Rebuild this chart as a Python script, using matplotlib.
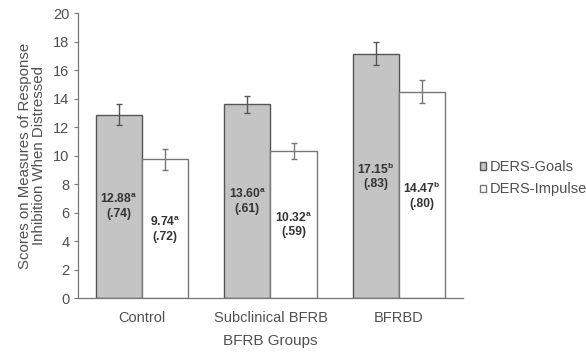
import numpy as np
import matplotlib.pyplot as plt

plt.rcParams['font.family'] = 'Liberation Sans'
plt.rcParams['mathtext.fontset'] = 'custom'
plt.rcParams['mathtext.rm'] = 'Liberation Sans'
plt.rcParams['mathtext.bf'] = 'Liberation Sans:bold'

groups = ['Control', 'Subclinical BFRB', 'BFRBD']
goals = [12.88, 13.60, 17.15]
goals_se = [0.74, 0.61, 0.83]
goals_sup = ['a', 'a', 'b']
impulse = [9.74, 10.32, 14.47]
impulse_se = [0.72, 0.59, 0.80]
impulse_sup = ['a', 'a', 'b']
yticks = [0, 2, 4, 6, 8, 10, 12, 14, 16, 18, 20]

txt = '#505050'
edge = '#555555'

fig = plt.figure(figsize=(5.86, 3.52), dpi=100)
ax = fig.add_axes([0.133, 0.153, 0.657, 0.81])

x = np.arange(len(groups))
w = 0.36
ax.bar(x - w/2, goals, w, color='#c4c4c4', edgecolor=edge, linewidth=1.0,
       yerr=goals_se, error_kw=dict(ecolor='#555555', elinewidth=1.0, capsize=2.5, capthick=1.0),
       label='DERS-Goals')
ax.bar(x + w/2, impulse, w, color='white', edgecolor='#777777', linewidth=1.0,
       yerr=impulse_se, error_kw=dict(ecolor='#777777', elinewidth=1.0, capsize=2.5, capthick=1.0),
       label='DERS-Impulse')

def lab(v, se, s):
    sev = ('%.2f' % se)[1:]
    return r'$\mathbf{%.2f}^{\mathbf{%s}}$' % (v, s) + '\n(' + sev + ')'

for i in range(len(groups)):
    ax.text(x[i] - w/2, goals[i] / 2, lab(goals[i], goals_se[i], goals_sup[i]),
            ha='center', va='center', fontsize=8.7, fontweight='bold', color='#333333',
            linespacing=1.2)
    ax.text(x[i] + w/2, impulse[i] / 2, lab(impulse[i], impulse_se[i], impulse_sup[i]),
            ha='center', va='center', fontsize=8.7, fontweight='bold', color='#333333',
            linespacing=1.2)

ax.set_xlim(-0.5, 2.5)
ax.set_ylim(0, 20)
ax.set_yticks(yticks)
ax.set_xticks(x)
ax.set_xticklabels(groups)
ax.tick_params(axis='x', length=0, pad=9, labelsize=10.5, colors=txt)
ax.tick_params(axis='y', length=3, width=0.8, color='#777777', labelsize=10.5, labelcolor=txt, pad=3)
for s in ['top', 'right']:
    ax.spines[s].set_visible(False)
for s in ['left', 'bottom']:
    ax.spines[s].set_color('#777777')
    ax.spines[s].set_linewidth(0.9)

ax.set_xlabel('BFRB Groups', fontsize=11, color=txt, labelpad=7)
ax.set_ylabel('Scores on Measures of Response\nInhibition When Distressed',
              fontsize=10.8, color=txt, labelpad=5, linespacing=1.0)

leg = ax.legend(loc='center left', bbox_to_anchor=(1.01, 0.42), frameon=False,
                fontsize=10.5, handlelength=0.4, handleheight=0.4, handletextpad=0.25,
                labelspacing=0.55, labelcolor=txt)

fig.savefig('out.png', dpi=100)
